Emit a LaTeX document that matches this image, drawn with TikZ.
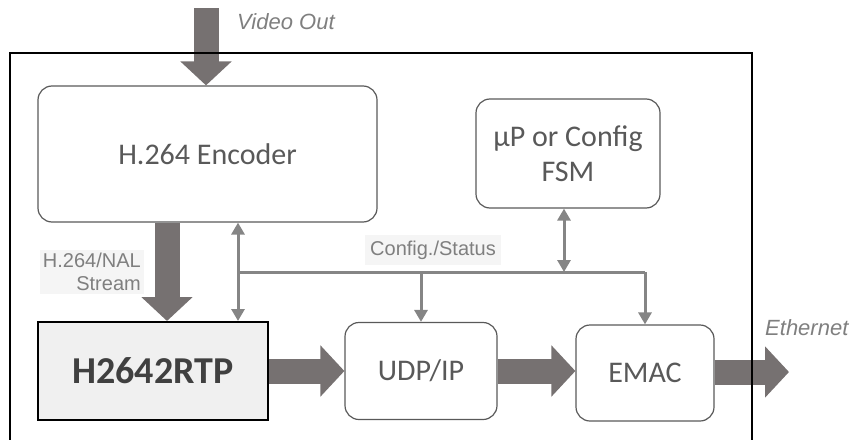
\documentclass[tikz,border=0pt]{standalone}
\usepackage{fontspec}
\setmainfont{Carlito}
\newfontfamily\labelfont{Liberation Sans}
\usetikzlibrary{arrows.meta}

\definecolor{arrowgray}{HTML}{767171}
\definecolor{busgray}{HTML}{858585}
\definecolor{textgray}{HTML}{595959}
\definecolor{labelgray}{HTML}{7F7F7F}

\tikzset{
  block/.style={draw=textgray, line width=1.2pt, rounded corners=14pt,
    text=textgray, font=\fontsize{30}{35}\selectfont, align=center, inner sep=0pt},
  bigarrow/.style={draw=arrowgray, line width=25pt,
    -{Triangle[width=50pt,length=24pt]}},
  bus/.style={draw=busgray, line width=3pt},
  busarrow/.style={bus, -{Triangle[width=13pt,length=12pt]}},
  busboth/.style={bus, {Triangle[width=13pt,length=12pt]}-{Triangle[width=13pt,length=12pt]}},
  sig/.style={text=labelgray, font=\labelfont\fontsize{20}{23}\selectfont, inner sep=2pt},
  io/.style={sig, font=\labelfont\itshape\fontsize{22}{25}\selectfont, anchor=west}
}

\begin{document}
\begin{tikzpicture}[x=1pt,y=-1pt]
  \clip (0,0) rectangle (851,439);

  % blocks
  \node[block, minimum width=339pt, minimum height=136pt] (enc) at (207.5,154) {H.264 Encoder};
  \node[block, minimum width=184pt, minimum height=109pt] (fsm) at (568,153.5) {µP or Config\\FSM};
  \node[block, draw=black, line width=2pt, rounded corners=0pt, fill=black!6, text=black!75,
    font=\bfseries\fontsize{38}{44}\selectfont, minimum width=230pt, minimum height=98pt] (rtp) at (153,371) {H2642RTP};
  \node[block, minimum width=152pt, minimum height=97pt] (udp) at (421,371) {UDP/IP};
  \node[block, minimum width=138pt, minimum height=96pt] (emac) at (645,373) {EMAC};

  \coordinate (vid) at (206,8);
  \coordinate (nal) at (167,0);
  \coordinate (eth) at (789,372);
  \coordinate (busL) at (238,272);
  \coordinate (busR) at (645,272);

  % data path
  \draw[bigarrow] (vid) -- (enc.north -| vid);
  \draw[bigarrow] (enc.south -| nal) -- (rtp.north -| nal);
  \draw[bigarrow] (rtp.east) -- (udp.west);
  \draw[bigarrow] (udp.east |- 0,371) -- (emac.west |- 0,371);
  \draw[bigarrow] (emac.east |- eth) -- (eth);

  % config / status bus
  \draw[busboth] (enc.south -| busL) -- (rtp.north -| busL);
  \draw[bus] (busL) -- (busR);
  \draw[busarrow] (busL -| udp) -- (udp.north);
  \draw[busarrow] (busR) -- (emac.north);
  \draw[busboth] (fsm.south -| 564,0) -- (busL -| 564,0);

  % labels
  \node[io] (vidlbl) at (235,22) {Video Out};
  \node[io] (ethlbl) at (763,328) {Ethernet};
  \node[sig, fill=black!4, inner xsep=5pt, inner ysep=6pt] (cfglbl) at (433,250) {Config./Status};
  \node[sig, fill=black!4, align=right, anchor=east, inner sep=3pt] (nallbl) at (144,272) {H.264/NAL\\Stream};

  % outer frame
  \draw[line width=2pt] (10,450) -- (10,53) -- (752,53) -- (752,450);
\end{tikzpicture}
\end{document}
